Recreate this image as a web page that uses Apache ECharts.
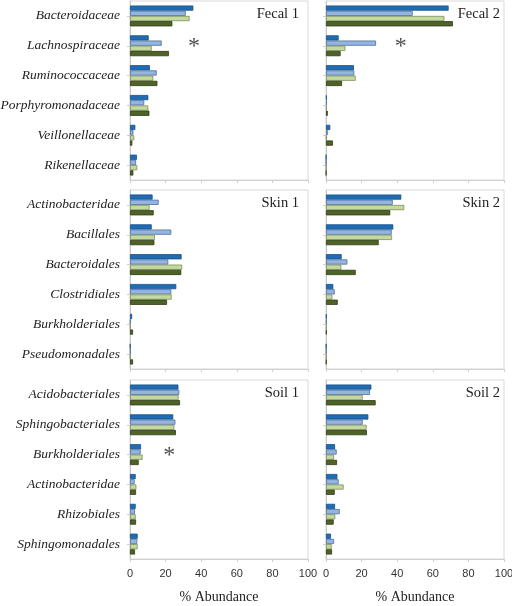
<!DOCTYPE html>
<html><head><meta charset="utf-8">
<script src="https://cdn.jsdelivr.net/npm/echarts@6/dist/echarts.min.js"></script>
<style>html,body{margin:0;padding:0;background:#fff}#c{width:512px;height:606px}</style>
</head><body><div id="c"></div>
<script>
// Categories per panel row
const fecalCats = ['Bacteroidaceae','Lachnospiraceae','Ruminococcaceae','Porphyromonadaceae','Veillonellaceae','Rikenellaceae'];
const skinCats = ['Actinobacteridae','Bacillales','Bacteroidales','Clostridiales','Burkholderiales','Pseudomonadales'];
const soilCats = ['Acidobacteriales','Sphingobacteriales','Burkholderiales','Actinobacteridae','Rhizobiales','Sphingomonadales'];

// Values (% abundance): four groups per category, top to bottom
const fecal1_a = [35.6, 10.5, 11.2, 10.3, 3.0, 3.9];
const fecal1_b = [31.3, 17.8, 15.0, 8.0, 1.9, 3.4];
const fecal1_c = [33.5, 12.2, 13.1, 10.3, 2.4, 4.1];
const fecal1_d = [23.8, 21.9, 15.4, 10.9, 1.3, 1.9];

const fecal2_a = [68.9, 7.1, 15.7, 0.4, 2.4, 0.1];
const fecal2_b = [48.7, 28.1, 15.9, 0.5, 1.0, 0.1];
const fecal2_c = [66.5, 10.9, 16.7, 0.4, 0.3, 0.1];
const fecal2_d = [71.3, 8.2, 9.0, 1.0, 3.9, 0.1];

const skin1_a = [12.7, 12.2, 29.0, 26.0, 1.2, 0.2];
const skin1_b = [16.1, 23.2, 21.5, 23.2, 0.3, 0.3];
const skin1_c = [11.0, 14.0, 29.3, 23.4, 0.3, 0.2];
const skin1_d = [13.3, 13.7, 28.8, 20.8, 1.7, 1.7];

const skin2_a = [42.3, 37.8, 8.8, 4.1, 0.3, 0.2];
const skin2_b = [37.5, 36.9, 12.0, 4.9, 0.3, 0.2];
const skin2_c = [44.0, 37.1, 8.6, 3.6, 0.3, 0.2];
const skin2_d = [36.1, 29.6, 16.7, 6.6, 0.3, 0.2];

const soil1_a = [27.2, 24.3, 6.2, 3.2, 3.2, 4.3];
const soil1_b = [27.7, 25.5, 6.0, 2.6, 2.8, 4.1];
const soil1_c = [27.3, 24.9, 7.1, 3.6, 3.2, 4.3];
const soil1_d = [28.1, 25.8, 4.9, 3.4, 3.4, 2.8];

const soil2_a = [25.5, 23.8, 5.1, 6.4, 5.1, 2.8];
const soil2_b = [24.7, 20.6, 6.0, 7.1, 7.7, 4.5];
const soil2_c = [20.6, 22.8, 4.5, 9.9, 5.2, 3.2];
const soil2_d = [27.9, 23.0, 6.2, 4.9, 4.3, 3.4];

// Panel titles
const panelTitles = ['Fecal 1','Fecal 2','Skin 1','Skin 2','Soil 1','Soil 2'];
// Significance markers: [panel index, value position, category]
const sigMarks = [[0, 36, 'Lachnospiraceae'], [1, 42, 'Lachnospiraceae'], [4, 22, 'Burkholderiales']];

const xTicks = [0, 20, 40, 60, 80, 100];
const xName = '% Abundance';

const panels = [
  {cats: fecalCats, vals: [fecal1_a, fecal1_b, fecal1_c, fecal1_d]},
  {cats: fecalCats, vals: [fecal2_a, fecal2_b, fecal2_c, fecal2_d]},
  {cats: skinCats, vals: [skin1_a, skin1_b, skin1_c, skin1_d]},
  {cats: skinCats, vals: [skin2_a, skin2_b, skin2_c, skin2_d]},
  {cats: soilCats, vals: [soil1_a, soil1_b, soil1_c, soil1_d]},
  {cats: soilCats, vals: [soil2_a, soil2_b, soil2_c, soil2_d]}
];

const fills = ['#1f6cb3', '#95b5e0', '#c4d9a0', '#4f6228'];
const borders = ['#17508a', '#4d6f9c', '#7d8f5c', '#2f3c15'];

const gridLefts = [130, 326];
const gridTops = [1, 190, 380];
const gridW = 178, gridH = 179;

const grids = [], xAxes = [], yAxes = [], series = [], titles = [];
panels.forEach((p, i) => {
  const col = i % 2, row = Math.floor(i / 2);
  const bottomRow = row === 2;
  grids.push({left: gridLefts[col], top: gridTops[row], width: gridW, height: gridH,
    outerBoundsMode: 'none', containLabel: false,
    show: true, borderColor: '#d9d9d9', borderWidth: 1, backgroundColor: 'transparent'});
  xAxes.push({type: 'value', gridIndex: i, min: 0, max: 100, interval: 20,
    splitLine: {show: false},
    axisLine: {show: true, lineStyle: {color: '#d0d0d0'}},
    axisTick: {show: true, length: 3, lineStyle: {color: '#d0d0d0'}},
    axisLabel: {show: bottomRow, fontFamily: 'Liberation Sans', fontSize: 11, color: '#333', margin: 9},
    name: bottomRow ? xName : '', nameLocation: 'middle', nameGap: 31,
    nameTextStyle: {fontFamily: 'Liberation Serif', fontSize: 14, color: '#222'}});
  yAxes.push({type: 'category', gridIndex: i, data: p.cats, inverse: true,
    axisLine: {show: true, lineStyle: {color: '#c8c8c8'}},
    axisTick: {show: true, alignWithLabel: true, length: 3, lineStyle: {color: '#d0d0d0'}},
    axisLabel: {show: col === 0, fontFamily: 'Liberation Serif', fontStyle: 'italic', fontSize: 13.5, color: '#222', margin: 10}});
  p.vals.forEach((v, k) => {
    series.push({type: 'bar', xAxisIndex: i, yAxisIndex: i, data: v,
      barGap: '0%', barCategoryGap: '30%',
      itemStyle: {color: fills[k], borderColor: borders[k], borderWidth: 0.8},
      silent: true, animation: false});
  });
  titles.push({text: panelTitles[i], right: col === 0 ? 512 - 299 : 12, top: gridTops[row] + 6, padding: 0,
    textStyle: {fontFamily: 'Liberation Serif', fontWeight: 'normal', fontSize: 14.5, color: '#222'}});
  const marks = sigMarks.filter(m => m[0] === i).map(m => [m[1], m[2]]);
  if (marks.length) {
    series.push({type: 'scatter', xAxisIndex: i, yAxisIndex: i, data: marks, symbolSize: 0,
      label: {show: true, formatter: '*', position: 'inside', offset: [0, 1], fontFamily: 'Liberation Serif', fontSize: 24, color: '#222'},
      silent: true, animation: false});
  }
});

const chart = echarts.init(document.getElementById('c'), null, {renderer: 'canvas'});
chart.setOption({animation: false, title: titles, grid: grids, xAxis: xAxes, yAxis: yAxes, series: series});
</script>
</body></html>
